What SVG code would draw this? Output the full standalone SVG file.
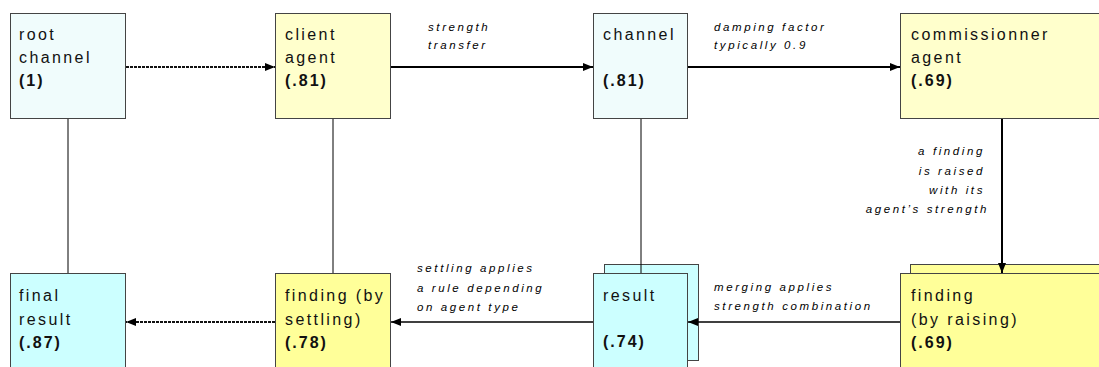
<svg xmlns="http://www.w3.org/2000/svg" width="1099" height="367" viewBox="0 0 1099 367">
<style>
.box{stroke:#444;stroke-width:1}
.c1{fill:#f0fcfc}.c2{fill:#ffffcc}.c3{fill:#ccffff}.c4{fill:#ffff99}
.t{font-family:"Liberation Sans",Arial,sans-serif;font-size:16px;letter-spacing:2.4px;fill:#111}
.b{font-weight:bold;letter-spacing:2px}
.l{font-family:"Liberation Sans",Arial,sans-serif;font-size:11.5px;font-style:italic;letter-spacing:2.6px;fill:#000}
.thin{stroke:#000;stroke-width:1;fill:none}
.thick{stroke:#000;stroke-width:2;fill:none}
.mid{stroke:#000;stroke-width:1.5;fill:none}
.dot{stroke:#111;stroke-width:2;stroke-dasharray:3 1;fill:none}
</style>
<defs>
<marker id="ah" markerWidth="10" markerHeight="8" refX="10" refY="4" orient="auto" markerUnits="userSpaceOnUse">
<path d="M0,0 L10,4 L0,8 Z" fill="#000"/>
</marker>
</defs>
<g id="root-channel">
<rect class="box c1" x="10.5" y="13.5" width="115" height="105"/>
<text class="t" x="19" y="40">root</text>
<text class="t" x="19" y="63">channel</text>
<text class="t b" x="19" y="86">(1)</text>
</g>
<g id="client-agent">
<rect class="box c2" x="275.5" y="13.5" width="115" height="105"/>
<text class="t" x="285" y="40">client</text>
<text class="t" x="285" y="63">agent</text>
<text class="t b" x="285" y="86">(.81)</text>
</g>
<g id="channel">
<rect class="box c1" x="593.5" y="13.5" width="94" height="105"/>
<text class="t" x="603" y="40">channel</text>
<text class="t b" x="603" y="86">(.81)</text>
</g>
<g id="commissionner-agent">
<rect class="box c2" x="900.5" y="13.5" width="210" height="105"/>
<text class="t" x="911" y="40">commissionner</text>
<text class="t" x="911" y="63">agent</text>
<text class="t b" x="911" y="86">(.69)</text>
</g>
<g id="final-result">
<rect class="box c3" x="10.5" y="273.5" width="115" height="105"/>
<text class="t" x="19" y="301">final</text>
<text class="t" x="19" y="325">result</text>
<text class="t b" x="19" y="348">(.87)</text>
</g>
<g id="finding-settling">
<rect class="box c4" x="275.5" y="273.5" width="115" height="105"/>
<text class="t" x="285" y="301">finding (by</text>
<text class="t" x="285" y="325">settling)</text>
<text class="t b" x="285" y="348">(.78)</text>
</g>
<g id="result">
<rect class="box c3" x="604.5" y="264.5" width="94" height="96"/>
<rect class="box c3" x="593.5" y="273.5" width="94" height="105"/>
<text class="t" x="603" y="301">result</text>
<text class="t b" x="603" y="347">(.74)</text>
</g>
<g id="finding-raising">
<rect class="box c4" x="910.5" y="264.5" width="200" height="96"/>
<rect class="box c4" x="900.5" y="273.5" width="210" height="105"/>
<text class="t" x="911" y="301">finding</text>
<text class="t" x="911" y="325">(by raising)</text>
<text class="t b" x="911" y="348">(.69)</text>
</g>
<g id="connectors">
<line class="thin" x1="68" y1="119" x2="68" y2="273"/>
<line class="thin" x1="333" y1="119" x2="333" y2="273"/>
<line class="thin" x1="641" y1="119" x2="641" y2="273"/>
<line class="dot" x1="126" y1="67" x2="275" y2="67" marker-end="url(#ah)"/>
<line class="thick" x1="391" y1="67" x2="593" y2="67" marker-end="url(#ah)"/>
<line class="thick" x1="688" y1="67" x2="900" y2="67" marker-end="url(#ah)"/>
<line class="thick" x1="1002" y1="119" x2="1002" y2="273" marker-end="url(#ah)"/>
<line class="mid" x1="900" y1="322" x2="688" y2="322" marker-end="url(#ah)"/>
<line class="mid" x1="593" y1="322" x2="391" y2="322" marker-end="url(#ah)"/>
<line class="dot" x1="275" y1="322" x2="126" y2="322" marker-end="url(#ah)"/>
<text class="l" x="428" y="31">strength</text>
<text class="l" x="428" y="49">transfer</text>
<text class="l" x="714" y="31">damping factor</text>
<text class="l" x="714" y="49">typically 0.9</text>
<text class="l" text-anchor="end" x="985" y="155">a  finding</text>
<text class="l" text-anchor="end" x="985" y="175">is raised</text>
<text class="l" text-anchor="end" x="985" y="194">with its</text>
<text class="l" text-anchor="end" x="989" y="213">agent’s strength</text>
<text class="l" x="417" y="272">settling applies</text>
<text class="l" x="417" y="292">a rule depending</text>
<text class="l" x="417" y="311">on agent type</text>
<text class="l" x="714" y="291">merging applies</text>
<text class="l" x="714" y="310">strength combination</text>
</g>
</svg>
